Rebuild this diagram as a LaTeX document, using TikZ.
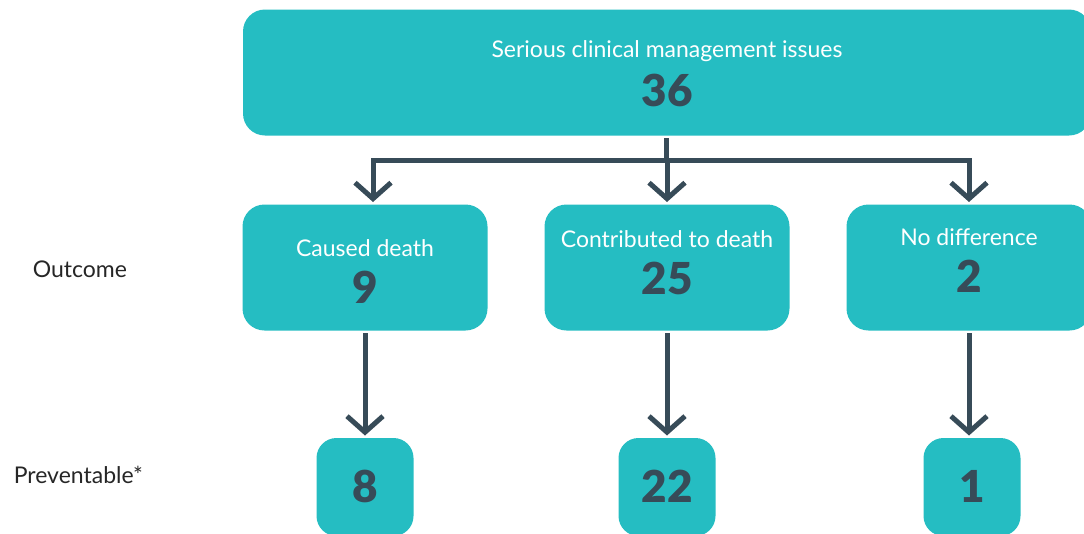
\documentclass[tikz,border=0pt]{standalone}
\usepackage{fontspec}
\setmainfont{Lato}[BoldFont={Lato Black}]
\usetikzlibrary{arrows.meta,positioning}

\definecolor{boxteal}{RGB}{37,189,194}
\definecolor{slate}{RGB}{55,75,88}

\begin{document}
\begin{tikzpicture}[x=1pt,y=-1pt,line width=5pt,
  >={Straight Barb[length=16pt,width=36pt]},
  box/.style={fill=boxteal,draw=none,rounded corners=22pt,inner sep=0pt},
  boxlabel/.style={text=white,font=\fontsize{23}{27}\selectfont},
  boxnum/.style={text=slate,font=\fontsize{44}{50}\selectfont\bfseries},
  side/.style={anchor=west,text=black!85,font=\fontsize{23}{27}\selectfont},
  link/.style={draw=slate}]
\clip (0,0) rectangle (1084,533);

% top box
\node[box,minimum width=848pt,minimum height=126pt] (top) at (667,72.5) {};
\node[boxlabel] (top-t) at (667,51) {Serious clinical management issues};
\node[boxnum] (top-n) at (667,90) {36};

% outcome boxes
\foreach \nm/\x/\ty/\txt/\n in {caused/365/248/Caused death/9,
    contrib/667/239/Contributed to death/25,
    nodiff/969/237/No difference/2}{
  \node[box,minimum width=245pt,minimum height=126pt] (\nm) at (\x,267.5) {};
  \node[boxlabel] (\nm-t) at (\x,\ty) {\txt};
  \node[boxnum] (\nm-n) at (\x,\ty+39) {\n};
}

% preventable boxes
\foreach \nm/\x/\n in {prevA/365/8,prevB/667/22,prevC/972/1}{
  \node[box,rounded corners=20pt,minimum width=97pt,minimum height=98pt] (\nm) at (\x,487) {};
  \node[boxnum] (\nm-n) at (\x,486) {\n};
}

\node[side] (outcome) at (27,269) {Outcome};
\node[side] (prevent) at (8,475) {Preventable*};

% connectors
\coordinate (fork) at (666,160);
\draw[link] (top.south -| fork) -- (fork);
\draw[link,line cap=rect] ([xshift=8pt]caused.north |- fork) -- (nodiff.north |- fork);
\draw[link,->] ([xshift=8pt]caused.north |- fork) -- ([xshift=8pt]caused.north);
\draw[link,->] (contrib.north |- fork) -- (contrib.north);
\draw[link,->] (nodiff.north |- fork) -- (nodiff.north);

\draw[link,->] (caused.south) -- (caused.south |- prevA.north);
\draw[link,->] (contrib.south) -- (contrib.south |- prevB.north);
\draw[link,->] (nodiff.south) -- (nodiff.south |- prevC.north);
\end{tikzpicture}
\end{document}
